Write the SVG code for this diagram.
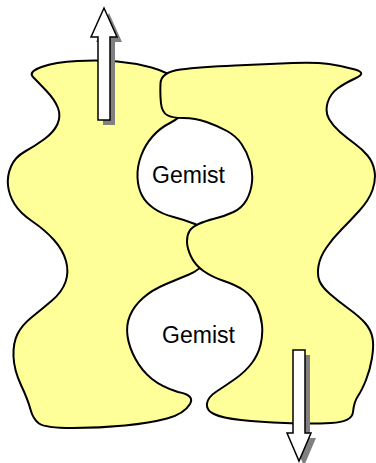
<svg xmlns="http://www.w3.org/2000/svg" width="376" height="463" viewBox="0 0 376 463">
<style>
.blob{fill:#FFFF99;stroke:#000;stroke-width:2;stroke-linejoin:round}
.arr{fill:#fff;stroke:#000;stroke-width:1.5;stroke-linejoin:miter}
.sh{fill:#808080;stroke:none}
.lbl{font-family:"Liberation Sans",Arial,sans-serif;font-size:23px;fill:#000;text-anchor:middle}
</style>
<rect width="376" height="463" fill="#fff"/>
<g id="left-blob">
<path class="blob" d="M33,77 Q28,72 41.5,67 Q55,62 77.5,61 Q100,60 117.5,61.5 Q135,63 151.5,67.5 Q168,72 184,83.5 Q200,95 190,106.5 Q180,118 170,123 Q160,128 152.5,136.5 Q145,145 141,156 Q137,167 137.5,177.5 Q138,188 142,195.5 Q146,203 154,208.5 Q162,214 173.5,217 Q185,220 195,224 Q205,228 210,239 Q215,250 207.5,260 Q200,270 189,274.5 Q178,279 165,284.5 Q152,290 143,298 Q134,306 130,315.5 Q126,325 127.5,336 Q129,347 135.5,359 Q142,371 152,379 Q162,387 178,392 Q195,395 190,404 Q184,414 167,418.5 Q150,423 125,425.5 Q100,428 72.5,428 Q45,428 39,423.5 Q33,419 30.5,409.5 Q28,400 21,385 Q14,370 13.5,356.5 Q13,343 17.5,334 Q22,325 32,317 Q42,309 52,300.5 Q62,292 65.5,282 Q69,272 66,261 Q63,250 54,240 Q45,230 32.5,221.5 Q20,213 14.5,204 Q9,195 8,185.5 Q7,176 11,166.5 Q15,157 25,151.5 Q35,146 44.5,139 Q54,132 57.5,124 Q61,116 58,108 Q55,100 46.5,91 Q38,82 33,77 Z"/>
</g>
<g id="right-blob">
<path class="blob" d="M160.5,83.5 Q161,72 180.5,69.5 Q200,67 235,65.5 Q270,64 292.5,63 Q315,62 329,64 Q343,66 355,69.5 Q367,73 356,78 Q345,83 337.5,88.5 Q330,94 327.5,103 Q325,112 329,119 Q333,126 340,132 Q347,138 354.5,143.5 Q362,149 367.5,155.5 Q373,162 374.5,171 Q376,180 372.5,190 Q369,200 359.5,210.5 Q350,221 341.5,229.5 Q333,238 326.5,247.5 Q320,257 318.5,266 Q317,275 319.5,281 Q322,287 330,294 Q338,301 349,309 Q360,317 365.5,323.5 Q371,330 372.5,338 Q374,346 372,358 Q370,370 366,380 Q362,390 358,396 Q354,402 353,412 Q352,422 331,423 Q310,424 285,423 Q260,422 241,420 Q222,418 214,414 Q206,410 207,403.5 Q208,397 216.5,391.5 Q225,386 235,379 Q245,372 251.5,363.5 Q258,355 260.5,345 Q263,335 262,325 Q261,315 256.5,305.5 Q252,296 244,290.5 Q236,285 224,281 Q212,277 203.5,271 Q195,265 191,256.5 Q187,248 187,241.5 Q187,235 189.5,231 Q192,227 198.5,224 Q205,221 215,218.5 Q225,216 233.5,212 Q242,208 246.5,200 Q251,192 252,182 Q253,172 250,162 Q247,152 241.5,144 Q236,136 227,131 Q218,126 206.5,122 Q195,118 183.5,118 Q172,118 167,115 Q162,112 161,103.5 Q160,95 160.5,83.5 Z"/>
</g>
<g id="label-top"><text class="lbl" x="188.5" y="183">Gemist</text></g>
<g id="label-bottom"><text class="lbl" x="198.5" y="343">Gemist</text></g>
<g id="arrows">
<g id="arrow-up">
<path class="sh" d="M109,13 L122,42 L115,42 L115,125 L103,125 L103,42 L96,42 Z"/>
<path class="arr" d="M104,8 L117,37 L110,37 L110,120 L98,120 L98,37 L91,37 Z"/>
</g>
<g id="arrow-down">
<path class="sh" d="M298,355 L310,355 L310,438 L316,438 L304,466 L292,438 L298,438 Z"/>
<path class="arr" d="M293,350 L305,350 L305,433 L311,433 L299,461 L287,433 L293,433 Z"/>
</g>
</g>
</svg>
